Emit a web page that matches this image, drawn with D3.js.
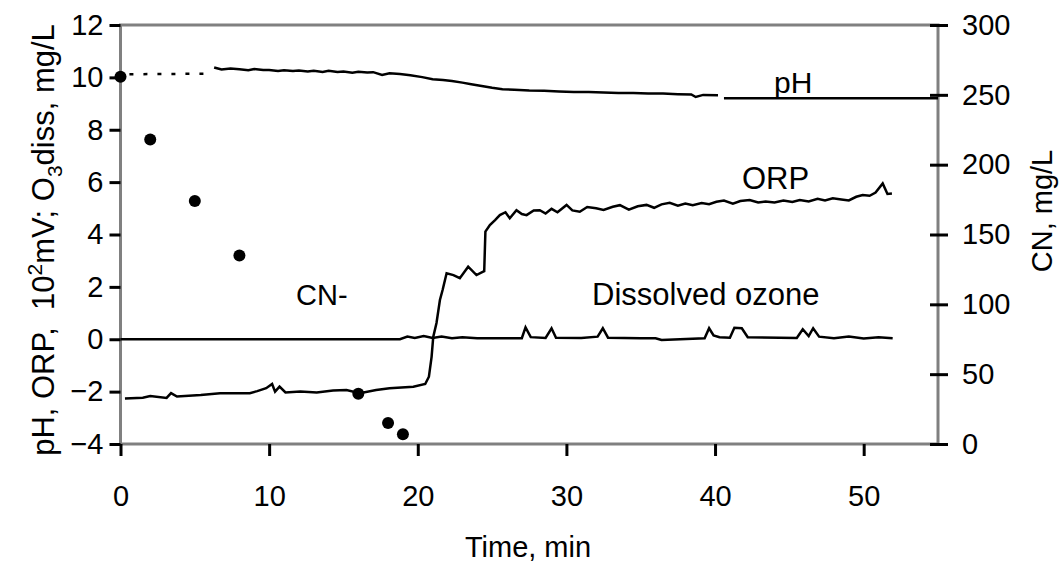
<!DOCTYPE html>
<html>
<head>
<meta charset="utf-8">
<script src="https://cdn.jsdelivr.net/npm/d3@7"></script>
<style>
  html, body { margin: 0; padding: 0; background: #fff; }
  svg { display: block; font-family: "Liberation Sans", Arial, sans-serif; }
</style>
</head>
<body>
<svg id="chart" width="1062" height="568"></svg>
<script>
// ---------- data ----------
const xTicks = [0, 10, 20, 30, 40, 50];
const leftTicks = [-4, -2, 0, 2, 4, 6, 8, 10, 12];
const rightTicks = [0, 50, 100, 150, 200, 250, 300];

// CN- concentration (right axis, mg/L)
const cnTime  = [0, 2, 5, 8, 16, 18, 19];
const cnValue = [263, 218, 174, 135, 36, 15, 7];

// pH: early sparse (dotted) part, main trace, late flat part
const phEarlyTime  = [0.6, 6.1];
const phEarlyValue = [10.12, 10.14];
const phTime  = [6.3, 6.8, 7.4, 8.0, 8.6, 9.0, 9.6, 10.0, 10.6, 11.0, 11.6, 12.0, 12.6, 13.0, 13.6, 14.0, 14.6,
                 15.0, 15.6, 16.0, 16.6, 17.0, 17.6, 18.1, 18.8,
                 19.5, 20.3, 21.0, 21.7, 22.3, 23.0, 23.6, 24.2, 25.0, 25.7, 26.5, 27.5, 28.5, 29.5, 30.5,
                 31.5, 32.5, 33.5, 34.5, 35.5, 36.5, 37.5, 38.4, 38.7, 39.2, 40.2];
const phValue = [10.38, 10.30, 10.34, 10.31, 10.27, 10.32, 10.28, 10.28, 10.24, 10.27, 10.24, 10.26, 10.22, 10.25,
                 10.21, 10.25, 10.21, 10.22, 10.18, 10.21, 10.19, 10.20, 10.09, 10.16, 10.13,
                 10.08, 10.01, 9.93, 9.90, 9.86, 9.80, 9.74, 9.68, 9.60, 9.55, 9.53, 9.50, 9.49, 9.46, 9.44,
                 9.44, 9.42, 9.40, 9.40, 9.38, 9.38, 9.36, 9.35, 9.25, 9.33, 9.32];
const phLateTime  = [40.6, 55];
const phLateValue = [9.20, 9.20];

// ORP (10^2 mV)
const orpTime  = [0.3, 1.5, 2.0, 3.1, 3.4, 3.8, 5.4, 6.7, 8.7, 9.2, 9.8, 10.2, 10.4, 10.7, 11.1, 12.1, 13.2, 14.3,
                  15.2, 16.1, 17.2, 18.1, 19.7, 20.5, 20.75, 20.93, 21.04, 21.26, 21.49, 21.67, 21.94, 22.4,
                  22.83, 23.39, 23.95, 24.4, 24.47, 24.55, 24.85, 25.2, 25.52, 25.9, 26.19, 26.64, 27.0, 27.32,
                  27.8, 28.21, 28.6, 29.0, 29.4, 30.01, 30.4, 30.9, 31.4, 32.0, 32.5, 33.12, 33.6, 34.2, 34.8,
                  35.39, 35.9, 36.4, 36.95, 37.5, 38.0, 38.5, 39.1, 39.6, 40.09, 40.6, 41.2, 41.7, 42.33, 42.9,
                  43.4, 44.0, 44.6, 45.2, 45.7, 46.3, 46.9, 47.4, 47.92, 48.5, 49.0, 49.5, 49.93, 50.4, 50.8,
                  51.28, 51.6, 51.9];
const orpValue = [-2.26, -2.23, -2.17, -2.24, -2.06, -2.19, -2.13, -2.06, -2.06, -1.98, -1.87, -1.71, -2.0, -1.81,
                  -2.03, -2.0, -2.03, -1.96, -1.94, -2.06, -1.94, -1.87, -1.81, -1.71, -1.43, -0.67, 0.09, 0.62,
                  1.50, 1.88, 2.52, 2.45, 2.33, 2.77, 2.45, 2.58, 2.60, 4.11, 4.36, 4.55, 4.74, 4.85, 4.62,
                  4.93, 4.78, 4.74, 4.92, 4.93, 4.80, 4.98, 4.85, 5.13, 4.92, 4.87, 5.05, 5.00, 4.94, 5.06,
                  5.12, 4.95, 5.08, 5.13, 5.02, 5.15, 5.21, 5.10, 5.18, 5.12, 5.20, 5.16, 5.25, 5.30, 5.18,
                  5.28, 5.32, 5.22, 5.26, 5.22, 5.30, 5.24, 5.32, 5.26, 5.36, 5.30, 5.38, 5.34, 5.30, 5.44,
                  5.51, 5.48, 5.60, 5.95, 5.55, 5.57];

// Dissolved ozone (mg/L)
const ozTime  = [0, 18.8, 19.3, 19.8, 20.4, 21.0, 21.6, 22.3, 23.0, 24.0, 27.0, 27.25, 27.6, 28.6, 29.0, 29.3,
                 31.0, 32.1, 32.45, 32.8, 35.0, 36.0, 36.4, 39.3, 39.6, 39.9, 40.3, 41.0, 41.3, 41.8, 42.2,
                 45.5, 45.9, 46.3, 46.6, 47.0, 48.0, 49.0, 50.0, 51.0, 51.95];
const ozValue = [0, 0, 0.10, 0.05, 0.12, 0.05, 0.10, 0.04, 0.08, 0.04, 0.04, 0.45, 0.08, 0.05, 0.42, 0.06,
                 0.05, 0.10, 0.42, 0.06, 0.04, 0.04, -0.03, 0.04, 0.42, 0.15, 0.08, 0.06, 0.44, 0.42, 0.08,
                 0.05, 0.38, 0.12, 0.42, 0.10, 0.04, 0.10, 0.03, 0.08, 0.04];

// ---------- layout ----------
const svg = d3.select("#chart");
const X0 = 120.5, X1 = 938, Y0 = 444, Y1 = 25;
const FS = 29;

const x = d3.scaleLinear().domain([0, 55]).range([X0, X1]);
const yL = d3.scaleLinear().domain([-4, 12]).range([Y0, Y1]);
const yR = d3.scaleLinear().domain([0, 300]).range([Y0, Y1]);

const zip = (a, b) => a.map((t, i) => [t, b[i]]);
const lineL = d3.line().x(d => x(d[0])).y(d => yL(d[1]));

// frame (grey)
svg.append("rect")
  .attr("x", X0).attr("y", Y1).attr("width", X1 - X0).attr("height", Y0 - Y1)
  .attr("fill", "none").attr("stroke", "#808080").attr("stroke-width", 3);

// series
const g = svg.append("g").attr("fill", "none").attr("stroke", "#000").attr("stroke-width", 2.5)
  .attr("stroke-linejoin", "miter");
g.append("path").attr("d", lineL(zip(ozTime, ozValue)));
g.append("path").attr("d", lineL(zip(orpTime, orpValue)));
g.append("path").attr("d", lineL(zip(phEarlyTime, phEarlyValue))).attr("stroke-dasharray", "4,10");
g.append("path").attr("d", lineL(zip(phTime, phValue)));
g.append("path").attr("d", lineL(zip(phLateTime, phLateValue)));

svg.append("g").selectAll("circle").data(zip(cnTime, cnValue)).join("circle")
  .attr("cx", d => x(d[0])).attr("cy", d => yR(d[1])).attr("r", 6).attr("fill", "#000");

// axes
function styleAxis(sel) {
  sel.select(".domain").remove();
  sel.selectAll(".tick line").attr("stroke", "#000").attr("stroke-width", 3);
  sel.selectAll(".tick text").attr("fill", "#000").style("font-size", FS + "px")
     .style("font-family", '"Liberation Sans", Arial, sans-serif');
}
svg.append("g").attr("transform", `translate(${X0},0)`)
  .call(d3.axisLeft(yL).tickValues(leftTicks).tickSize(11).tickPadding(6).tickFormat(d3.format("d")))
  .call(styleAxis);
svg.append("g").attr("transform", `translate(0,${Y0})`)
  .call(d3.axisBottom(x).tickValues(xTicks).tickSize(12).tickPadding(29).tickFormat(d3.format("d")))
  .call(styleAxis);
const ra = svg.append("g").attr("transform", `translate(${X1},0)`)
  .call(d3.axisRight(yR).tickValues(rightTicks).tickSize(10).tickPadding(14).tickFormat(d3.format("d")))
  .call(styleAxis);
ra.selectAll(".tick line").attr("x1", -8).attr("x2", 10);

// axis titles
const txt = (s, fs) => s.style("font-size", (fs || FS) + "px").attr("fill", "#000");
svg.append("text").attr("x", 528).attr("y", 557).attr("text-anchor", "middle").text("Time, min").call(txt);

const lt = svg.append("text").attr("transform", "translate(54,240) rotate(-90)")
  .attr("text-anchor", "middle").style("white-space", "pre").call(txt, 31);
lt.append("tspan").text("pH, ORP,\u00a0\u00a010");
lt.append("tspan").attr("dy", -12).style("font-size", "21px").text("2");
lt.append("tspan").attr("dy", 12).text("mV; O");
lt.append("tspan").attr("dy", 8).style("font-size", "21px").text("3");
lt.append("tspan").attr("dy", -8).text("diss, mg/L");

svg.append("text").attr("transform", "translate(1052,211) rotate(-90)")
  .attr("text-anchor", "middle").text("CN, mg/L").call(txt);

// series labels
svg.append("text").attr("x", 774).attr("y", 93).text("pH").call(txt, 30);
svg.append("text").attr("x", 742).attr("y", 189).text("ORP").call(txt, 31);
svg.append("text").attr("x", 592).attr("y", 305).text("Dissolved ozone").call(txt, 31);
svg.append("text").attr("x", 296).attr("y", 305).text("CN-").call(txt);
</script>
</body>
</html>
